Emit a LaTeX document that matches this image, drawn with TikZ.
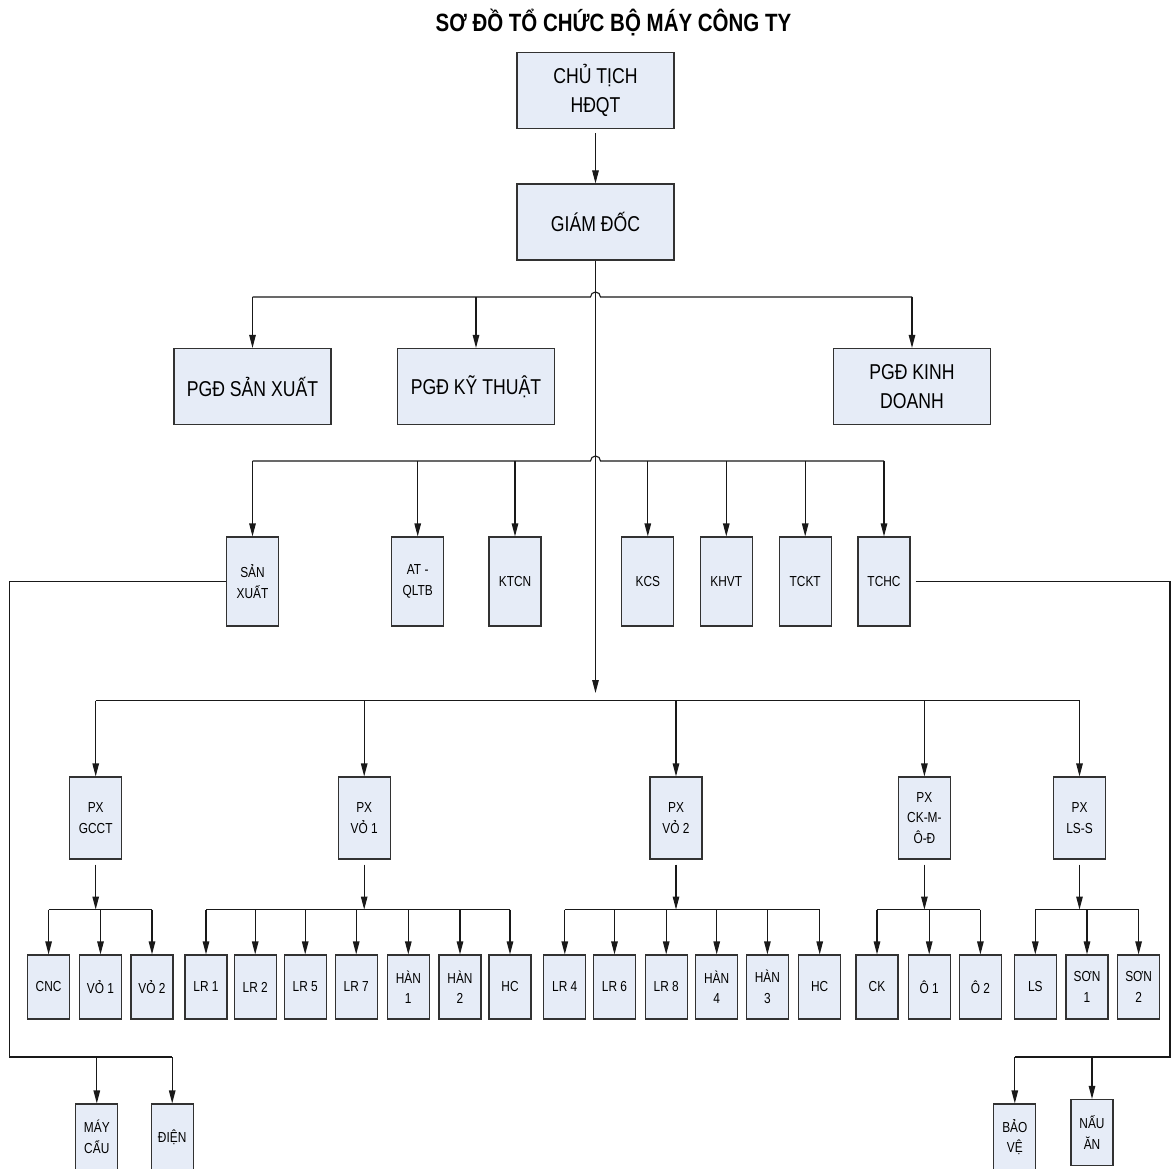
\documentclass[tikz,border=0pt]{standalone}
\usepackage{fontspec}
\setmainfont[FakeStretch=0.82]{Liberation Sans}
\usetikzlibrary{arrows.meta}
\definecolor{unitfill}{RGB}{230,236,247}
\definecolor{unitline}{RGB}{50,50,50}
\tikzset{
  unit/.style={draw=unitline, fill=unitfill, line width=1.1pt, inner sep=0pt, align=center,
    minimum width=52pt, minimum height=89pt, font=\fontsize{14.5}{20.5}\selectfont},
  head/.style={unit, minimum width=157pt, minimum height=76pt, font=\fontsize{21.5}{29}\selectfont},
  pxunit/.style={unit, minimum height=82pt},
  subunit/.style={unit, minimum width=42pt, minimum height=64pt},
  lowunit/.style={unit, minimum width=42pt, minimum height=66pt},
  link/.style={line width=1.1pt, black!90},
  arr/.style={link, -{Triangle[length=13pt,width=6.5pt]}},
}
\begin{document}
\begin{tikzpicture}[x=1pt,y=-1pt]
  \useasboundingbox (0,0) rectangle (1171,1169);
  \clip (0,0) rectangle (1171,1169);
  \node[anchor=base, font=\bfseries\fontsize{25}{30}\selectfont] (title) at (613.5,32)
    {SƠ ĐỒ TỔ CHỨC BỘ MÁY CÔNG TY};

  % top
  \node[head] (chutich) at (595.5,90.5) {CHỦ TỊCH\\HĐQT};
  \node[head] (giamdoc) at (595.5,222) {GIÁM ĐỐC};
  \node[head] (pgdsx) at (252.5,386.5) {PGĐ SẢN XUẤT};
  \node[head] (pgdkt) at (476,386.5) {PGĐ KỸ THUẬT};
  \node[head] (pgdkd) at (912,386.5) {PGĐ KINH\\DOANH};

  % phong ban
  \node[unit] (sx) at (252.5,581.5) {SẢN\\XUẤT};
  \node[unit] (atqltb) at (417.7,581.5) {AT -\\QLTB};
  \node[unit] (ktcn) at (515,581.5) {KTCN};
  \node[unit] (kcs) at (647.8,581.5) {KCS};
  \node[unit] (khvt) at (726.3,581.5) {KHVT};
  \node[unit] (tckt) at (805.2,581.5) {TCKT};
  \node[unit] (tchc) at (884,581.5) {TCHC};

  % phan xuong
  \node[pxunit] (gcct) at (95.7,818) {PX\\GCCT};
  \node[pxunit] (vomot) at (364.2,818) {PX\\VỎ 1};
  \node[pxunit] (vohai) at (676,818) {PX\\VỎ 2};
  \node[pxunit] (ckmod) at (924.4,818) {PX\\CK-M-\\Ô-Đ};
  \node[pxunit] (lss) at (1079.5,818) {PX\\LS-S};

  % to
  \node[subunit] (cnc) at (48.6,987) {CNC};
  \node[subunit] (voa) at (100.5,987) {VỎ 1};
  \node[subunit] (vob) at (152,987) {VỎ 2};
  \node[subunit] (lra) at (206,987) {LR 1};
  \node[subunit] (lrb) at (255.2,987) {LR 2};
  \node[subunit] (lre) at (305.2,987) {LR 5};
  \node[subunit] (lrg) at (356.2,987) {LR 7};
  \node[subunit] (hana) at (408.3,987) {HÀN\\1};
  \node[subunit] (hanb) at (460,987) {HÀN\\2};
  \node[subunit] (hca) at (510,987) {HC};
  \node[subunit] (lrd) at (564.8,987) {LR 4};
  \node[subunit] (lrf) at (614.5,987) {LR 6};
  \node[subunit] (lrh) at (666.2,987) {LR 8};
  \node[subunit] (hand) at (716.7,987) {HÀN\\4};
  \node[subunit] (hanc) at (767.4,987) {HÀN\\3};
  \node[subunit] (hcb) at (819.7,987) {HC};
  \node[subunit] (ck) at (877,987) {CK};
  \node[subunit] (oa) at (929.2,987) {Ô 1};
  \node[subunit] (ob) at (980.4,987) {Ô 2};
  \node[subunit] (ls) at (1035.3,987) {LS};
  \node[subunit] (sona) at (1087,987) {SƠN\\1};
  \node[subunit] (sonb) at (1138.6,987) {SƠN\\2};

  % bottom
  \node[lowunit] (maycau) at (96.8,1137) {MÁY\\CẨU};
  \node[lowunit] (dien) at (172.2,1137) {ĐIỆN};
  \node[lowunit] (baove) at (1014.8,1137) {BẢO\\VỆ};
  \node[lowunit] (nauan) at (1092,1132.5) {NẤU\\ĂN};

  \coordinate (bar1) at (595.5,297);
  \coordinate (bar2) at (595.5,461);
  \coordinate (bar3) at (595.5,700.5);
  \coordinate (loopL) at (9.5,1057);
  \coordinate (loopR) at (1170,1057);

  \draw[arr, shorten <=4pt] (chutich.south) -- (giamdoc.north);
  \draw[arr, shorten >=7.5pt] (giamdoc.south) -- (bar3);

  \draw[link] (pgdsx.north |- bar1) -- ([xshift=-5pt]bar1)
    arc[start angle=180, end angle=0, radius=5pt] -- (pgdkd.north |- bar1);
  \foreach \n in {pgdsx,pgdkt,pgdkd}
    \draw[arr] (\n.north |- bar1) -- (\n.north);

  \draw[link] (sx.north |- bar2) -- ([xshift=-5pt]bar2)
    arc[start angle=180, end angle=0, radius=5pt] -- (tchc.north |- bar2);
  \foreach \n in {sx,atqltb,ktcn,kcs,khvt,tckt,tchc}
    \draw[arr] (\n.north |- bar2) -- (\n.north);

  \draw[link] (gcct.north |- bar3) -- (lss.north |- bar3);
  \foreach \n in {gcct,vomot,vohai,ckmod,lss}
    \draw[arr] (\n.north |- bar3) -- (\n.north);

  % nhanh phan xuong
  \foreach \p/\a/\b in {gcct/cnc/vob, vomot/lra/hca, vohai/lrd/hcb, ckmod/ck/ob, lss/ls/sonb} {
    \path (\p.south) ++(0,50) coordinate (\p bar);
    \draw[arr, shorten <=5pt] (\p.south) -- (\p bar);
    \draw[link] (\a.north |- \p bar) -- (\b.north |- \p bar);
  }
  \foreach \p/\n in {gcct/cnc, gcct/voa, gcct/vob,
      vomot/lra, vomot/lrb, vomot/lre, vomot/lrg, vomot/hana, vomot/hanb, vomot/hca,
      vohai/lrd, vohai/lrf, vohai/lrh, vohai/hand, vohai/hanc, vohai/hcb,
      ckmod/ck, ckmod/oa, ckmod/ob, lss/ls, lss/sona, lss/sonb}
    \draw[arr] (\n.north |- \p bar) -- (\n.north);

  % vong ngoai
  \draw[link] (sx.west) -| (loopL) -- (dien.north |- loopL);
  \draw[arr] (maycau.north |- loopL) -- (maycau.north);
  \draw[arr] (dien.north |- loopL) -- (dien.north);
  \draw[link] ([xshift=5pt]tchc.east) -| (loopR) -- (baove.north |- loopR);
  \draw[arr] (baove.north |- loopR) -- (baove.north);
  \draw[arr] (nauan.north |- loopR) -- (nauan.north);
\end{tikzpicture}
\end{document}
